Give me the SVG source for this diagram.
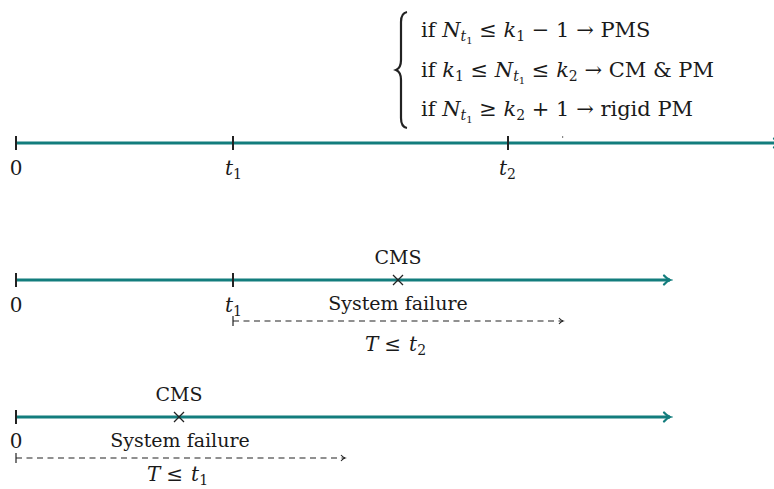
<svg xmlns="http://www.w3.org/2000/svg" width="774" height="489" viewBox="0 0 774 489">
<defs>
<marker id="ah" markerWidth="12" markerHeight="12" refX="9" refY="6" orient="auto" markerUnits="userSpaceOnUse">
<path d="M3,1.5 Q6,5 9,6 Q6,7 3,10.5" fill="none" stroke="#137d7d" stroke-width="2.2" stroke-linecap="round"/>
</marker>
<marker id="dh" markerWidth="10" markerHeight="10" refX="7" refY="5" orient="auto" markerUnits="userSpaceOnUse">
<path d="M3,2 Q5,4.4 7,5 Q5,5.6 3,8" fill="none" stroke="#222" stroke-width="1.1"/>
</marker>
<style>
.axis{stroke:#137d7d;stroke-width:3;fill:none}
.tick{stroke:#222;stroke-width:2}
.dash{stroke:#222;stroke-width:1.2;stroke-dasharray:6,4.5;fill:none}
.bar{stroke:#222;stroke-width:1.2}
.cross{stroke:#222;stroke-width:1.3}
text{font-family:"DejaVu Serif","Liberation Serif",serif;font-size:20px;fill:#1a1a1a}
.lbl{font-size:19px}
.math{font-size:21px}
.m{text-anchor:middle}
.i{font-style:italic}
.s{font-size:14px}
.ss{font-size:10px}
</style>
</defs>
<g id="connectors">
<line class="axis" x1="16" y1="143" x2="780" y2="143" marker-end="url(#ah)"/>
<line class="axis" x1="16" y1="280" x2="670" y2="280" marker-end="url(#ah)"/>
<line class="axis" x1="16" y1="417" x2="670" y2="417" marker-end="url(#ah)"/>
<line class="dash" x1="233" y1="321" x2="563" y2="321" marker-end="url(#dh)"/>
<line class="bar" x1="233" y1="316" x2="233" y2="326"/>
<line class="dash" x1="16" y1="458" x2="345" y2="458" marker-end="url(#dh)"/>
<line class="bar" x1="16" y1="453" x2="16" y2="463"/>
</g>
<g id="timeline1">
<line class="tick" x1="16" y1="136" x2="16" y2="150"/>
<line class="tick" x1="233" y1="136" x2="233" y2="150"/>
<line class="tick" x1="508" y1="136" x2="508" y2="150"/>
<text class="m" x="16" y="175">0</text>
<text x="225" y="175"><tspan class="i">t</tspan><tspan class="s" dy="4">1</tspan></text>
<text x="499" y="175"><tspan class="i">t</tspan><tspan class="s" dy="4">2</tspan></text>
<rect x="562" y="136" width="1.2" height="2" fill="#888"/>
</g>
<g id="cases">
<path d="M407,12 Q401,13 401,22 L401,60 Q401,68 396,70 Q401,72 401,80 L401,118 Q401,127 407,128" fill="none" stroke="#222" stroke-width="2.2"/>
<text class="math" x="421" y="37">if <tspan class="i">N</tspan><tspan class="s i" dy="4">t</tspan><tspan class="ss" dy="3">1</tspan><tspan dy="-7"> ≤ </tspan><tspan class="i">k</tspan><tspan class="s" dy="4">1</tspan><tspan dy="-4"> − 1 → PMS</tspan></text>
<text class="math" x="421" y="77">if <tspan class="i">k</tspan><tspan class="s" dy="4">1</tspan><tspan dy="-4"> ≤ </tspan><tspan class="i">N</tspan><tspan class="s i" dy="4">t</tspan><tspan class="ss" dy="3">1</tspan><tspan dy="-7"> ≤ </tspan><tspan class="i">k</tspan><tspan class="s" dy="4">2</tspan><tspan dy="-4"> → CM &amp; PM</tspan></text>
<text class="math" x="421" y="116">if <tspan class="i">N</tspan><tspan class="s i" dy="4">t</tspan><tspan class="ss" dy="3">1</tspan><tspan dy="-7"> ≥ </tspan><tspan class="i">k</tspan><tspan class="s" dy="4">2</tspan><tspan dy="-4"> + 1 → rigid PM</tspan></text>
</g>
<g id="timeline2">
<line class="tick" x1="16" y1="273" x2="16" y2="287"/>
<line class="tick" x1="233" y1="273" x2="233" y2="287"/>
<path class="cross" d="M393,275 L403,285 M403,275 L393,285"/>
<text class="m lbl" x="398" y="264">CMS</text>
<text class="m" x="16" y="312">0</text>
<text x="225" y="312"><tspan class="i">t</tspan><tspan class="s" dy="4">1</tspan></text>
<text class="m lbl" x="398" y="310">System failure</text>
<text x="365" y="351" font-size="22"><tspan class="i">T</tspan><tspan dx="6">≤</tspan><tspan class="i" dx="8">t</tspan><tspan class="s" dy="4">2</tspan></text>
</g>
<g id="timeline3">
<line class="tick" x1="16" y1="410" x2="16" y2="424"/>
<path class="cross" d="M174,412 L184,422 M184,412 L174,422"/>
<text class="m lbl" x="179" y="401">CMS</text>
<text class="m" x="16" y="448">0</text>
<text class="m lbl" x="180" y="447">System failure</text>
<text x="147" y="481" font-size="22"><tspan class="i">T</tspan><tspan dx="6">≤</tspan><tspan class="i" dx="8">t</tspan><tspan class="s" dy="4">1</tspan></text>
</g>
</svg>
